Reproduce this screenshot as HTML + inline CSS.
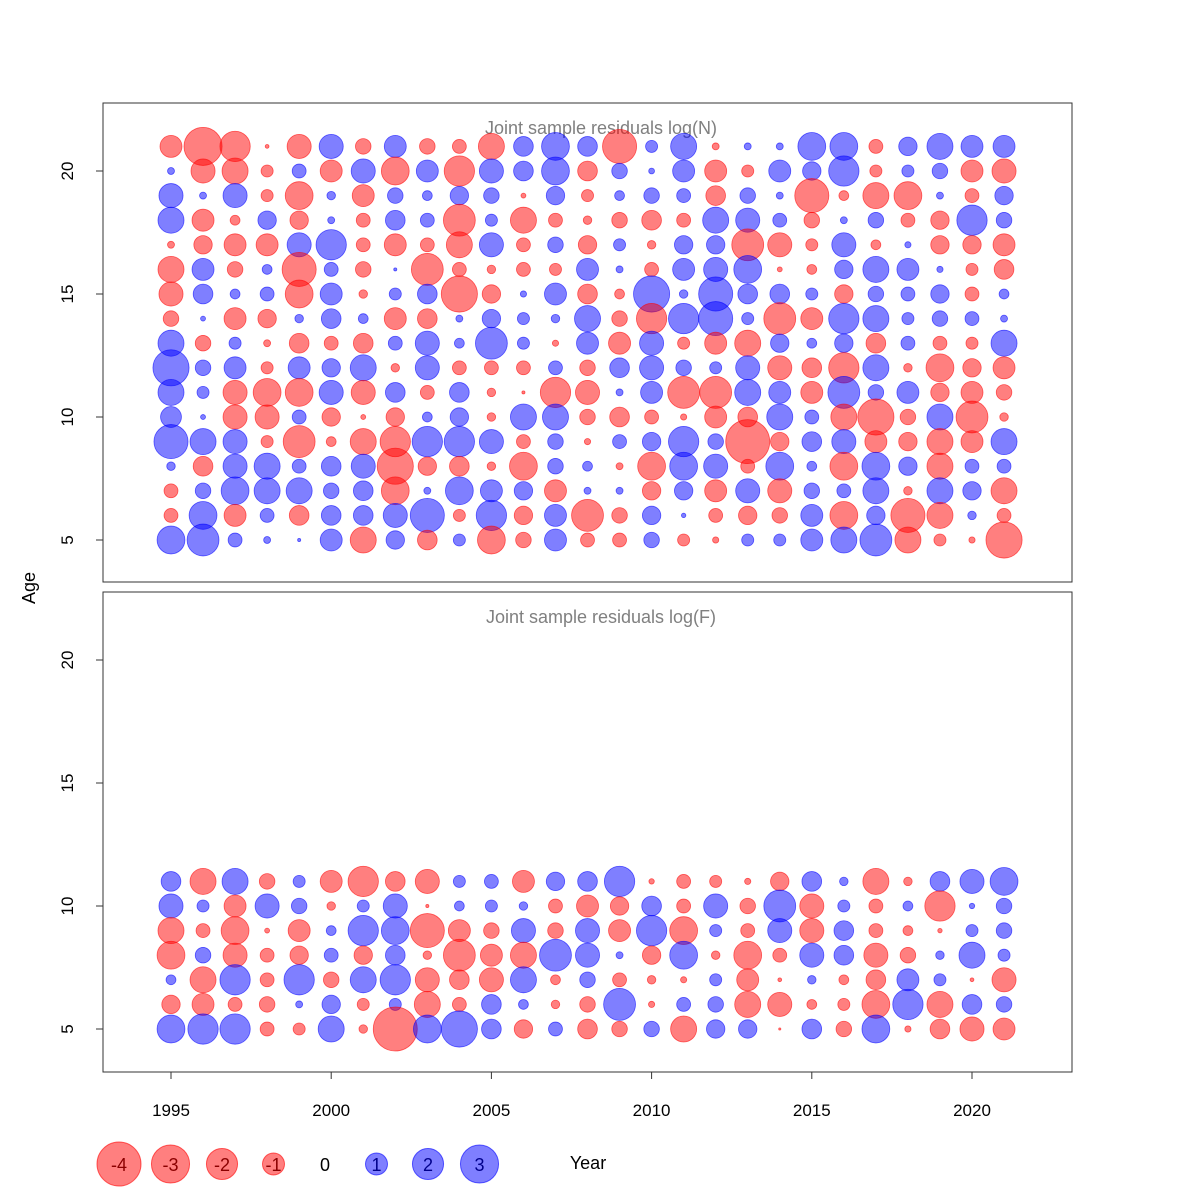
<!DOCTYPE html>
<html><head><meta charset="utf-8"><style>
body{margin:0;background:#fff;}
svg{display:block;font-family:"Liberation Sans",sans-serif;}
</style></head><body>
<svg id="c" width="1200" height="1200" viewBox="0 0 1200 1200" xmlns="http://www.w3.org/2000/svg">
<rect x="0" y="0" width="1200" height="1200" fill="#fff"/>
<rect x="103" y="103" width="969" height="479" fill="none" stroke="#333"/>
<rect x="103" y="592" width="969" height="480" fill="none" stroke="#333"/>
<text x="601" y="134" text-anchor="middle" font-size="18" fill="#808080">Joint sample residuals log(N)</text>
<text x="601" y="623" text-anchor="middle" font-size="18" fill="#808080">Joint sample residuals log(F)</text>
<text x="0" y="0" transform="translate(35,588) rotate(-90)" text-anchor="middle" font-size="18">Age</text>
<text x="588" y="1169" text-anchor="middle" font-size="18">Year</text>
<g id="axes"></g>
<g id="marks"></g>
<g id="legend"></g>
</svg>
<script>
const years = [1995,1996,1997,1998,1999,2000,2001,2002,2003,2004,2005,2006,2007,2008,2009,2010,2011,2012,2013,2014,2015,2016,2017,2018,2019,2020,2021];
const agesN = [21,20,19,18,17,16,15,14,13,12,11,10,9,8,7,6,5];
const agesF = [11,10,9,8,7,6,5];
const yTicks = [5,10,15,20];
const xTicks = [1995,2000,2005,2010,2015,2020];
const legendVals = [-4,-3,-2,-1,0,1,2,3];
// residuals log(N): one row per year, ages 21..5
const resN = [
[-1,0.1,1.2,1.4,-0.1,-1.4,-1.2,-0.5,1.4,2.7,1.4,0.9,2.4,0.15,-0.4,-0.4,1.6],
[-3,-1.2,0.1,-1,-0.7,1,0.8,0.05,-0.5,0.5,0.3,0.05,1.4,-0.8,0.5,1.6,2.1],
[-1.9,-1.4,1.2,-0.2,-1,-0.5,0.2,-1,0.3,1,-1.2,-1.2,1.2,1.2,1.6,-1,0.4],
[-0.03,-0.3,-0.3,0.7,-1,0.2,0.4,-0.7,-0.1,-0.3,-1.6,-1.2,-0.3,1.4,1.4,0.4,0.1],
[-1.2,0.4,-1.6,-0.7,1.2,-2.4,-1.6,0.15,-0.8,1,-1.6,0.4,-2.1,0.4,1.4,-0.8,0.02],
[1.2,-1,0.15,0.1,1.9,0.4,1,0.8,-0.4,0.7,1.2,-0.7,-0.2,0.8,0.5,0.8,1],
[-0.5,1.2,-1,-0.4,-0.4,-0.5,-0.15,0.2,-0.8,1.4,-1.2,-0.05,-1.4,1.2,0.8,0.8,-1.4],
[1,-1.6,0.5,0.8,-1,0.02,0.3,-1,0.4,-0.15,0.8,-0.7,-1.9,-2.7,-1.6,1.2,0.7],
[-0.5,1,0.2,0.4,-0.4,-2.1,0.8,-0.8,1.2,1.2,-0.4,0.2,1.9,-0.7,0.1,2.4,-0.8],
[-0.4,-1.9,0.7,-2.1,-1.4,-0.4,-2.7,0.1,0.2,-0.4,0.8,0.7,1.9,-0.8,1.6,-0.3,0.3],
[-1.4,1.2,0.5,0.3,1.2,-0.15,-0.7,0.7,2.1,-0.4,-0.15,-0.15,1.2,-0.15,1,1.9,-1.6],
[0.8,0.8,-0.05,-1.4,-0.4,-0.4,0.08,0.3,0.3,-0.4,-0.02,1.4,-0.4,-1.6,0.7,-0.7,-0.5],
[1.6,1.6,0.7,-0.4,0.5,-0.3,1,0.15,-0.08,0.4,-1.9,1.4,0.5,0.5,-1,1,1],
[0.8,-0.8,-0.3,-0.15,-0.7,1,-0.8,1.4,1,-0.5,-1.2,-0.5,-0.08,0.2,0.1,-2.1,-0.4],
[-2.4,0.5,0.2,-0.5,0.3,0.1,-0.2,-0.5,-1,0.8,0.1,-0.8,0.4,-0.1,0.1,-0.5,-0.4],
[0.3,0.07,0.5,-0.8,-0.15,-0.4,2.7,-1.9,1.2,1.2,1,-0.4,0.7,-1.6,-0.7,0.7,0.5],
[1.4,1,0.4,-0.4,0.7,1,0.15,1.9,-0.3,0.5,-2.1,-0.08,1.9,1.6,0.7,0.04,-0.3],
[-0.1,-1,-0.8,1.4,0.7,1.2,2.4,2.4,-1,0.3,-2.1,-1,0.5,1.2,-1,-0.4,-0.08],
[0.1,-0.3,0.5,1.2,-2.1,1.6,0.8,0.3,-1.4,1.2,1.4,-0.8,-4,-0.4,1.2,-0.7,0.3],
[0.1,1,0.1,0.4,-1.2,-0.05,0.8,-2.1,0.7,-1.2,1,1.4,-0.7,1.6,-1.2,-0.5,0.3],
[1.6,0.7,-2.4,-0.5,-0.3,-0.2,0.3,-1,0.2,-0.8,-1,0.4,0.8,0.2,0.5,1,1],
[1.6,1.9,-0.2,0.1,1.2,0.7,-0.7,1.9,0.7,-1.9,2.1,-1.4,1.2,-1.6,0.4,-1.6,1.4],
[-0.4,-0.3,-1.4,0.5,-0.2,1.4,0.5,1.4,-0.8,1.4,0.5,-2.7,-1,1.6,1.4,0.7,2.1],
[0.7,0.3,-1.6,-0.4,0.08,1,0.4,0.3,0.4,-0.15,1,-0.5,-0.7,0.7,-0.15,-2.4,-1.4],
[1.4,0.5,0.1,-0.7,-0.7,0.08,0.7,0.5,-0.4,-1.6,-0.7,1.4,-1.4,-1.4,1.4,-1.4,-0.3],
[1,-1,-0.4,1.9,-0.7,-0.3,-0.4,0.4,-0.3,-0.7,-1,-2.1,-1,0.4,0.7,0.15,-0.08],
[1,-1.2,0.7,0.5,-1,-0.8,0.2,0.1,1.4,-1,-0.5,-0.15,1.4,0.4,-1.4,-0.4,-2.7]
];
// residuals log(F): one row per year, ages 11..5
const resF = [
[0.8,1.2,-1.4,-1.6,0.2,-0.7,1.6],
[-1.4,0.3,-0.4,0.5,-1.4,-1,1.9],
[1.4,-1,-1.6,-1.2,1.9,-0.4,1.9],
[-0.5,1.2,-0.05,-0.4,-0.4,-0.5,-0.4],
[0.3,0.5,-1,-0.7,1.9,0.1,-0.3],
[-1,-0.15,0.2,0.4,-0.5,0.7,1.4],
[-1.9,0.3,1.9,-0.7,1.4,-0.3,-0.15],
[-0.8,1.2,1.6,0.8,1.9,0.3,-4],
[-1.2,-0.02,-2.4,-0.15,-1.2,-1.4,1.6],
[0.3,0.2,-1,-2.1,-0.8,-0.4,2.7],
[0.4,0.3,-0.5,-1,-1.2,0.8,0.8],
[-1,0.15,1.2,-1.4,1.4,0.2,-0.7],
[0.7,-0.4,-0.5,2.1,-0.2,-0.15,0.4],
[0.8,-1,1.2,1.2,0.5,-0.5,-0.8],
[1.9,-0.7,-1,0.1,-0.4,2.1,-0.5],
[-0.06,0.8,1.9,-0.7,-0.15,-0.08,0.5],
[-0.4,-0.4,-1.6,1.6,-0.08,0.4,-1.4],
[-0.3,1.2,0.3,-0.15,0.3,0.5,0.7],
[-0.08,-0.5,-0.4,-1.6,-1,-1.4,0.7],
[-0.7,2.1,1.2,-0.4,-0.03,-1.2,-0.01],
[0.8,-1.2,-1.2,1.2,0.15,-0.2,0.8],
[0.15,0.3,0.8,0.8,-0.2,-0.3,-0.5],
[-1.4,-0.4,-0.4,-1.2,-0.8,-1.6,1.6],
[-0.15,0.2,-0.2,-0.5,1,1.9,-0.08],
[0.8,-1.9,-0.04,0.15,0.3,-1.4,-0.8],
[1.2,0.06,0.3,1.4,-0.03,0.8,-1.2],
[1.6,0.5,0.5,0.3,-1.2,0.5,-1]
];

const NS = "http://www.w3.org/2000/svg";
const xScale = yr => 171 + (yr - 1995) * 32.04;
const yTop = a => 540 - (a - 5) * 24.6;
const yBot = a => 1029 - (a - 5) * 24.6;
const rScale = v => 11 * Math.sqrt(Math.abs(v));
function mk(tag, attrs, parent) {
  const e = document.createElementNS(NS, tag);
  for (const k in attrs) e.setAttribute(k, attrs[k]);
  parent.appendChild(e);
  return e;
}
const axes = document.getElementById('axes');
const marks = document.getElementById('marks');
const legend = document.getElementById('legend');

[yTop, yBot].forEach((ys, pi) => {
  yTicks.forEach(t => {
    const y = ys(t);
    const ln = mk('line', {x1: 96, x2: 103, y1: y, y2: y, stroke: '#333'}, axes);
    
    
    const tx = mk('text', {transform: `translate(73,${y}) rotate(-90)`, 'text-anchor': 'middle', 'font-size': 17}, axes);
    tx.textContent = t;
    
    
  });
});
xTicks.forEach(t => {
  const x = xScale(t);
  const ln = mk('line', {x1: x, x2: x, y1: 1072, y2: 1079, stroke: '#333'}, axes);
  
  
  const tx = mk('text', {x: x, y: 1116, 'text-anchor': 'middle', 'font-size': 17}, axes);
  tx.textContent = t;
  
  
});

function drawPanel(res, ages, ys, name) {
  years.forEach((yr, i) => {
    ages.forEach((a, j) => {
      const v = res[i][j];
      const neg = v < 0;
      const c = mk('circle', {cx: xScale(yr), cy: ys(a), r: rScale(v),
        fill: neg ? 'rgba(255,0,0,0.5)' : 'rgba(0,0,255,0.5)',
        stroke: neg ? 'rgba(255,0,0,0.6)' : 'rgba(0,0,255,0.6)', 'stroke-width': 0.8}, marks);
      
      
    });
  });
}
drawPanel(resN, agesN, yTop, 'bubble-logn');
drawPanel(resF, agesF, yBot, 'bubble-logf');

const legX0 = 119, legStep = 51.5;
legendVals.forEach((v, i) => {
  const x = legX0 + i * legStep;
  if (v !== 0) {
    const c = mk('circle', {cx: x, cy: 1164, r: rScale(v),
      fill: v < 0 ? 'rgba(255,0,0,0.5)' : 'rgba(0,0,255,0.5)',
      stroke: v < 0 ? 'rgba(255,0,0,0.6)' : 'rgba(0,0,255,0.6)'}, legend);
    
    
  }
  const t = mk('text', {x: x, y: 1171, 'text-anchor': 'middle', 'font-size': 18,
    fill: v < 0 ? '#8b0000' : (v > 0 ? '#00008b' : '#000')}, legend);
  t.textContent = v;
  
  
});
</script>
</body></html>
